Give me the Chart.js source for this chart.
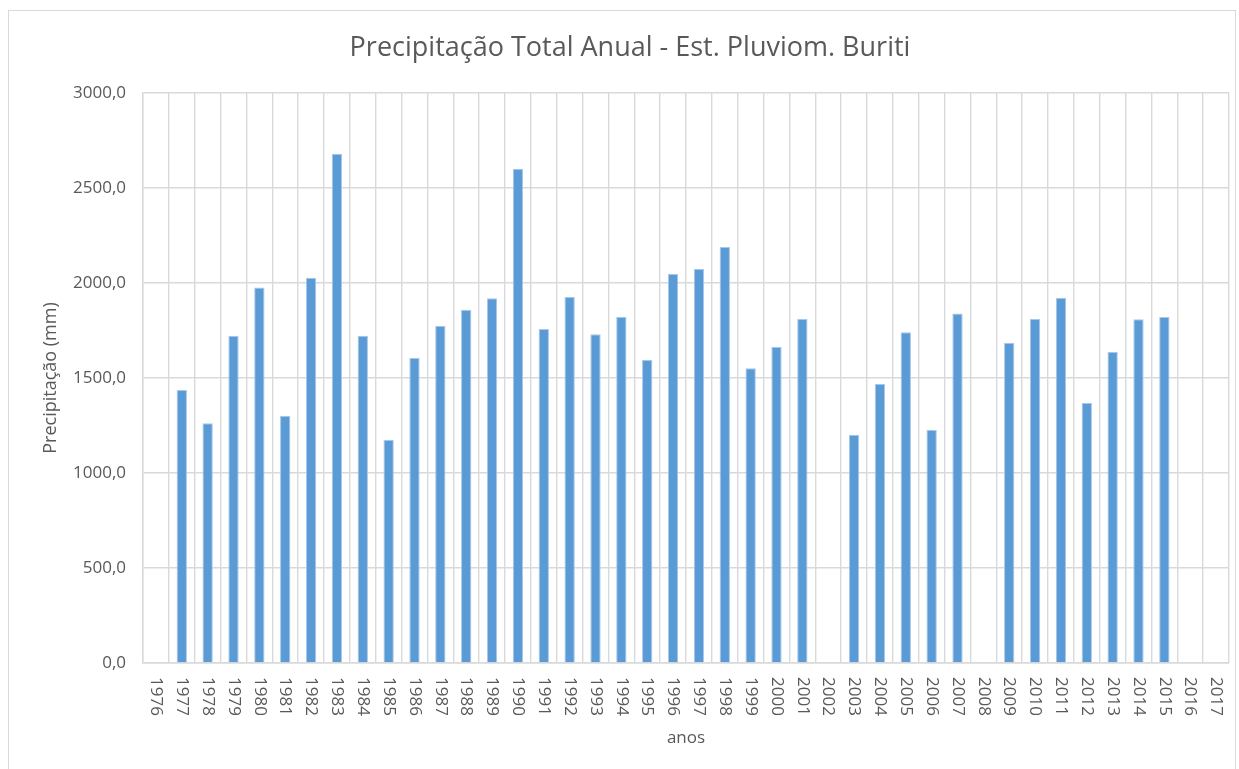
<!DOCTYPE html>
<html>
<head>
<meta charset="utf-8">
<script src="https://cdn.jsdelivr.net/npm/chart.js@4/dist/chart.umd.min.js"></script>
<style>
  html, body { margin: 0; padding: 0; background: #ffffff; }
  #frame { position: absolute; left: 8px; top: 10px; width: 1228px; height: 780px; border: 1px solid #d9d9d9; box-sizing: border-box; }
  #wrap { position: absolute; left: 0; top: 0; width: 1239px; height: 769px; }
</style>
</head>
<body>
<div id="frame"></div>
<div id="wrap"><canvas id="c"></canvas></div>
<script>
const chartTitle = 'Precipitação Total Anual - Est. Pluviom. Buriti';
const yAxisTitle = 'Precipitação (mm)';
const xAxisTitle = 'anos';
const years = ['1976','1977','1978','1979','1980','1981','1982','1983','1984','1985','1986','1987','1988','1989','1990','1991','1992','1993','1994','1995','1996','1997','1998','1999','2000','2001','2002','2003','2004','2005','2006','2007','2008','2009','2010','2011','2012','2013','2014','2015','2016','2017'];
const precipitation = [null,1437,1262,1723,1976,1301,2027,2680,1723,1175,1606,1775,1859,1920,2601,1758,1926,1730,1823,1596,2048,2074,2190,1551,1664,1810,null,1201,1469,1741,1227,1840,null,1686,1811,1922,1368,1638,1809,1821,null,null];
const yTicks = { min: 0, max: 3000, step: 500 };

const FONT = "'Open Sans', sans-serif";
const TEXT = '#595959';
const GRID = '#d9d9d9';

const xLabelPlugin = {
  id: 'xLabels',
  afterDraw(chart) {
    const scale = chart.scales.x;
    const ctx = chart.ctx;
    ctx.save();
    ctx.font = '17px ' + FONT;
    ctx.fillStyle = TEXT;
    ctx.textAlign = 'left';
    ctx.textBaseline = 'middle';
    const top = scale.top + 14;
    years.forEach((lab, i) => {
      const x = scale.getPixelForTick(i);
      ctx.save();
      ctx.translate(x, top);
      ctx.rotate(Math.PI / 2);
      ctx.fillText(lab, 0, 0);
      ctx.restore();
    });
    ctx.restore();
  }
};

new Chart(document.getElementById('c'), {
  type: 'bar',
  data: {
    labels: years,
    datasets: [{
      label: yAxisTitle,
      data: precipitation,
      backgroundColor: '#5b9bd5',
      borderColor: '#a7c8ea',
      borderWidth: 1,
      categoryPercentage: 1.0,
      barPercentage: 0.4
    }]
  },
  options: {
    responsive: true,
    maintainAspectRatio: false,
    animation: false,
    layout: { padding: { left: 31, right: 10, top: 0, bottom: 0 } },
    plugins: {
      legend: { display: false },
      tooltip: { enabled: false },
      title: {
        display: true,
        text: chartTitle,
        color: TEXT,
        font: { family: FONT, size: 27, weight: 'normal', lineHeight: 1.2 },
        padding: { top: 31.8, bottom: 28.8 }
      }
    },
    scales: {
      x: {
        grid: { color: GRID, lineWidth: 1.4, drawTicks: false, offset: true },
        border: { color: GRID, width: 1.4 },
        ticks: { display: false },
        title: {
          display: true,
          text: xAxisTitle,
          color: TEXT,
          font: { family: FONT, size: 17, lineHeight: 1.2 },
          padding: { top: 0, bottom: 20.8 }
        },
        afterFit(scale) { scale.height = 106; }
      },
      y: {
        min: yTicks.min,
        max: yTicks.max,
        grid: { color: GRID, lineWidth: 1.4, drawTicks: false },
        border: { color: GRID, width: 1.4 },
        ticks: {
          stepSize: yTicks.step,
          color: TEXT,
          padding: 17,
          font: { family: FONT, size: 17 },
          callback: (v) => v.toFixed(1).replace('.', ',')
        },
        title: {
          display: true,
          text: yAxisTitle,
          color: TEXT,
          font: { family: FONT, size: 18, lineHeight: 1.2 },
          padding: { top: 9.2, bottom: 0 }
        },
        afterFit(scale) { scale.width = 112; }
      }
    }
  },
  plugins: [xLabelPlugin]
});
</script>
</body>
</html>
